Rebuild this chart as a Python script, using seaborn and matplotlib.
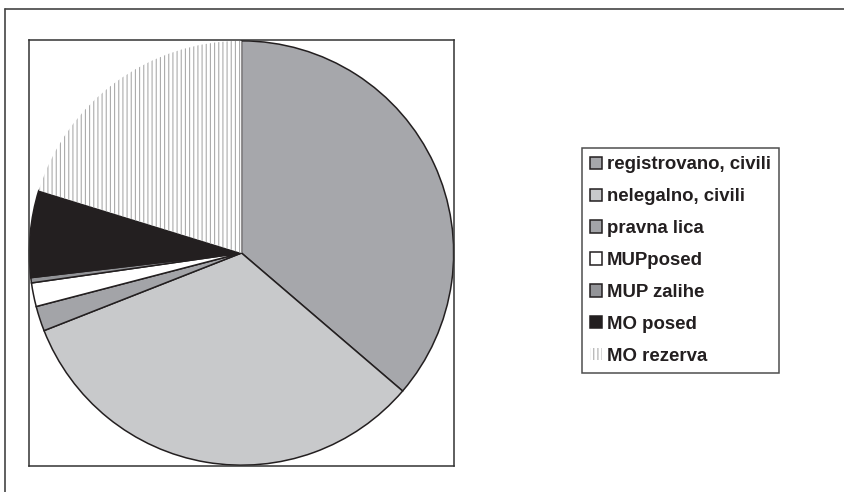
import matplotlib
matplotlib.use('Agg')
import matplotlib.pyplot as plt
import seaborn as sns
from matplotlib.lines import Line2D

labels = ["registrovano, civili", "nelegalno, civili", "pravna lica", "MUPposed",
          "MUP zalihe", "MO posed", "MO rezerva"]
values = [36.2, 32.7, 1.9, 1.8, 0.4, 6.6, 20.2]
colors = ["#A6A7AB", "#C8C9CB", "#A3A4A8", "#FFFFFF", "#939498", "#231F20", "#FFFFFF"]

sns.set_style('white')
plt.rcParams['font.family'] = ['Liberation Sans', 'DejaVu Sans']
plt.rcParams['hatch.linewidth'] = 0.8

W, H = 845, 492
fig = plt.figure(figsize=(W / 100, H / 100), dpi=100)
fig.patch.set_facecolor('white')

ax = fig.add_axes([28.5 / W, 1 - 466 / H, 426 / W, 426 / H])
wedges, _ = ax.pie(values, colors=colors, startangle=90, counterclock=False,
                   radius=1.0, frame=True,
                   wedgeprops=dict(edgecolor='#231F20', linewidth=1.1))
rez = wedges[-1]
rez.set_hatch('||||')
rez.set_edgecolor('#ABABAB')
rez.set_linewidth(0)

ax.set_xlim(-1.004, 1.004)
ax.set_ylim(-1.004, 1.004)
ax.set_aspect('equal')
ax.set_xticks([])
ax.set_yticks([])
for s in ax.spines.values():
    s.set_visible(True)
    s.set_color('#333333')
    s.set_linewidth(1.1)

# outer chart border
fig.add_artist(Line2D([5.5 / W, 5.5 / W], [0, 1 - 9 / H], transform=fig.transFigure,
                      color='#444444', linewidth=1.2))
fig.add_artist(Line2D([5.5 / W, 1], [1 - 9 / H, 1 - 9 / H], transform=fig.transFigure,
                      color='#444444', linewidth=1.2))

leg = fig.legend(wedges, labels, loc='upper left',
                 bbox_to_anchor=(582 / W, 1 - 148 / H), bbox_transform=fig.transFigure,
                 prop=dict(weight='bold', size=13.4), frameon=True, fancybox=False,
                 shadow=False, borderaxespad=0, handlelength=0.65, handleheight=0.65,
                 handletextpad=0.25, labelspacing=0.80, borderpad=0.45)
leg.get_frame().set_edgecolor('#222222')
leg.get_frame().set_linewidth(1.1)
for t in leg.get_texts():
    t.set_color('#231F20')

fig.savefig('out.png', dpi=100, facecolor='white')
